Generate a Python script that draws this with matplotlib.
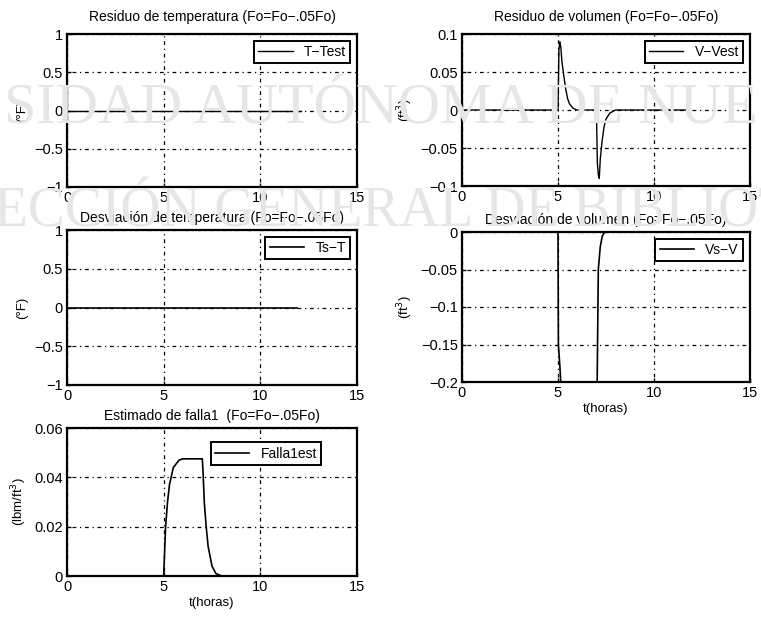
import numpy as np
import matplotlib.pyplot as plt

# tiempo (horas) y señales
t_temp = [0, 5, 7, 12.1]
res_temp = [0, 0, 0, 0]

t_vol = [0, 5.0, 5.05, 5.1, 5.15, 5.2, 5.3, 5.4, 5.5, 5.6, 5.8, 6.0,
         7.0, 7.05, 7.1, 7.15, 7.2, 7.3, 7.4, 7.5, 7.7, 8.0, 11.8]
res_vol = [0, 0, 0.08, 0.09, 0.082, 0.065, 0.045, 0.028, 0.015, 0.008, 0.002, 0,
           0, -0.07, -0.085, -0.09, -0.065, -0.04, -0.022, -0.012, -0.004, 0, 0]

t_dtemp = [0, 5, 7, 11.9]
dev_temp = [0, 0, 0, 0]

t_dvol = [0, 5.0, 5.02, 5.1, 5.25, 7.0, 7.04, 7.1, 7.2, 7.3, 7.4, 7.5, 12.0]
dev_vol = [0, 0, -0.15, -0.18, -0.25, -0.25, -0.2, -0.05, -0.02, -0.006, -0.001, 0, 0]

t_falla = [3.6, 5.0, 5.05, 5.1, 5.2, 5.3, 5.5, 5.8, 6.0, 7.0, 7.05, 7.1,
           7.2, 7.3, 7.5, 7.7, 8.0, 11.7]
falla_est = [0, 0, 0.01, 0.02, 0.03, 0.037, 0.044, 0.047, 0.0475, 0.0475, 0.04, 0.03,
             0.02, 0.012, 0.004, 0.001, 0, 0]

titulo_sufijo = '(Fo=Fo\u2212.05Fo)'

plt.rcParams['font.family'] = ['Liberation Sans', 'DejaVu Sans']
plt.rcParams['font.size'] = 9

fig = plt.figure(figsize=(7.61, 6.17), dpi=100)
W, H = 761, 617

# marca de agua del escaneo (muy tenue)
fig.text(0.005, 0.822, 'SIDAD AUTÓNOMA DE NUE', family='Liberation Serif',
         fontsize=42, color='#e6e6e6', zorder=0, va='center', ha='left')
fig.text(-0.008, 0.656, 'ECCIÓN GENERAL DE BIBLIOT', family='Liberation Serif',
         fontsize=40, color='#e6e6e6', zorder=0, va='center', ha='left')


def make_ax(x0, y0, x1, y1):
    return fig.add_axes([x0 / W, 1 - y1 / H, (x1 - x0) / W, (y1 - y0) / H])


def style(ax, ylim, yticks, title, ylabel, label, legend_anchor=(1.0, 1.0),
          xlabel=None, title_pad=9):
    ax.set_facecolor('none')
    ax.set_xlim(0, 15)
    ax.set_ylim(*ylim)
    ax.set_xticks([0, 5, 10, 15])
    ax.set_yticks(yticks)
    ax.grid(True, color='black', linestyle=(0, (1, 3, 3, 3)), linewidth=0.9)
    for s in ax.spines.values():
        s.set_linewidth(1.6)
    ax.tick_params(direction='in', length=3, width=1, labelsize=10.5, pad=3)
    ax.set_title(title, fontsize=10, pad=title_pad)
    ax.set_ylabel(ylabel, fontsize=9.5)
    if xlabel:
        ax.set_xlabel(xlabel, fontsize=9.5, labelpad=2)
    leg = ax.legend([label], loc='upper right', bbox_to_anchor=legend_anchor,
                    fancybox=False, framealpha=1, edgecolor='black',
                    fontsize=10, handlelength=2.5, borderpad=0.3)
    leg.get_frame().set_linewidth(1.4)


def fmt(v):
    return ('%g' % v).replace('-', '\u2212')


ax1 = make_ax(67, 34, 357, 187)
ax1.plot(t_temp, res_temp, color='black', lw=1)
style(ax1, (-1, 1), [-1, -0.5, 0, 0.5, 1], 'Residuo de temperatura ' + titulo_sufijo,
      '(°F)', 'T\u2212Test')

ax2 = make_ax(462, 34, 750, 186)
ax2.plot(t_vol, res_vol, color='black', lw=1)
style(ax2, (-0.1, 0.1), [-0.1, -0.05, 0, 0.05, 0.1], 'Residuo de volumen ' + titulo_sufijo,
      '(ft$^3$)', 'V\u2212Vest')

ax3 = make_ax(67, 230, 357, 385)
ax3.plot(t_dtemp, dev_temp, color='black', lw=1.2)
style(ax3, (-1, 1), [-1, -0.5, 0, 0.5, 1], 'Desviación de temperatura ' + titulo_sufijo,
      '(°F)', 'Ts\u2212T', title_pad=6)

ax4 = make_ax(462, 232, 750, 382)
ax4.plot(t_dvol, dev_vol, color='black', lw=1.2)
style(ax4, (-0.2, 0), [-0.2, -0.15, -0.1, -0.05, 0], 'Desviación de volumen ' + titulo_sufijo,
      '(ft$^3$)', 'Vs\u2212V', xlabel='t(horas)', title_pad=6)

ax5 = make_ax(67, 428, 357, 576)
ax5.plot(t_falla, falla_est, color='black', lw=1.2)
style(ax5, (0, 0.06), [0, 0.02, 0.04, 0.06], 'Estimado de falla1  ' + titulo_sufijo,
      '(lbm/ft$^3$)', 'Falla1est', legend_anchor=(0.9, 0.95), xlabel='t(horas)',
      title_pad=6)

for ax in (ax1, ax2, ax3, ax4, ax5):
    ax.set_xticklabels([fmt(v) for v in ax.get_xticks()])
    ax.set_yticklabels([fmt(v) for v in ax.get_yticks()])

fig.savefig('out.png', dpi=100, facecolor='white')
